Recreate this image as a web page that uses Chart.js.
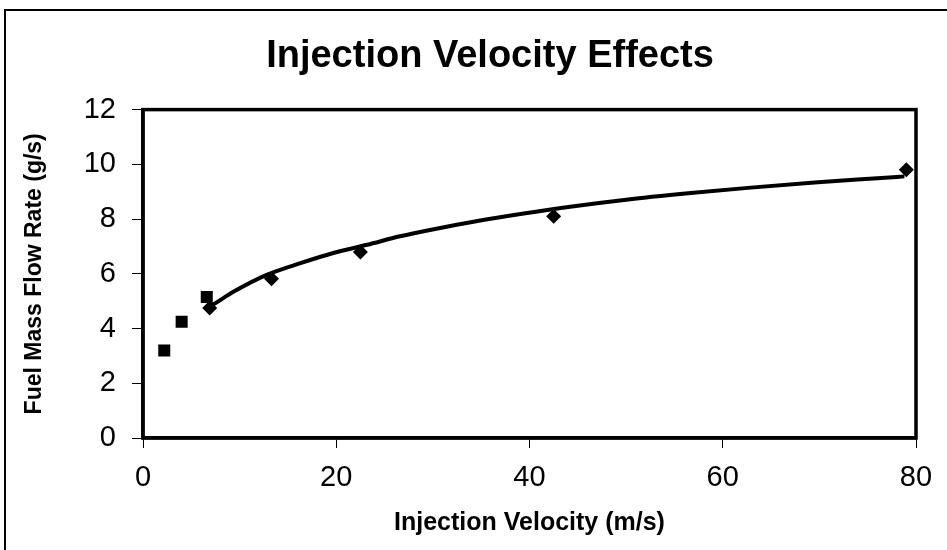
<!DOCTYPE html>
<html>
<head>
<meta charset="utf-8">
<script src="https://cdn.jsdelivr.net/npm/chart.js@4"></script>
<style>
  html, body { margin: 0; padding: 0; background: #fff; }
  #wrap { position: relative; width: 947px; height: 550px; }
  #frameLeft { position: absolute; left: 4px; top: 9px; width: 2px; height: 541px; background: #000; }
  #frameTop { position: absolute; left: 4px; top: 9px; width: 943px; height: 2px; background: #000; }
</style>
</head>
<body>
<div id="wrap">
  <canvas id="myChart" width="947" height="550"></canvas>
  <div id="frameLeft"></div>
  <div id="frameTop"></div>
</div>
<script>
// measured points (square markers)
var velSquare = [2.2, 4.0, 6.6];
var flowSquare = [3.2, 4.25, 5.15];

// measured points (diamond markers)
var velDiamond = [6.9, 13.3, 22.5, 42.5, 79.0];
var flowDiamond = [4.75, 5.82, 6.8, 8.1, 9.8];

// trend line
var trendVel = [6.9, 7.5, 9.4, 12.8, 16.3, 19.7, 23.2, 26.6, 30.1, 34.2, 39.4, 44.6, 49.8, 56.7, 62.6, 69.5, 76.4, 78.8];
var trendFlow = [4.8, 4.93, 5.35, 5.96, 6.39, 6.76, 7.06, 7.37, 7.63, 7.9, 8.2, 8.47, 8.7, 8.95, 9.14, 9.34, 9.5, 9.56];

var xTicks = [0, 20, 40, 60, 80];
var yTicks = [0, 2, 4, 6, 8, 10, 12];

function toPoints(xs, ys) {
  return xs.map(function (x, i) { return { x: x, y: ys[i] }; });
}

var FONT = "'Liberation Sans', Arial, Helvetica, sans-serif";

// box around the plot area
var plotFrame = {
  id: "plotFrame",
  afterDatasetsDraw: function (chart) {
    var a = chart.chartArea;
    var c = chart.ctx;
    c.save();
    c.strokeStyle = "#000";
    c.lineWidth = 3.5;
    c.strokeRect(a.left, a.top, a.right - a.left, a.bottom - a.top);
    c.restore();
  }
};

var ctx = document.getElementById("myChart").getContext("2d");
var myChart = new Chart(ctx, {
  type: "scatter",
  data: {
    datasets: [
      {
        label: "Trend",
        data: toPoints(trendVel, trendFlow),
        showLine: true,
        borderColor: "#000",
        borderWidth: 4,
        pointRadius: 0,
        cubicInterpolationMode: "monotone",
      },
      {
        label: "Squares",
        data: toPoints(velSquare, flowSquare),
        pointStyle: "rect",
        pointRadius: 8.5,
        backgroundColor: "#000",
        borderColor: "#000",
        borderWidth: 0,
      },
      {
        label: "Diamonds",
        data: toPoints(velDiamond, flowDiamond),
        pointStyle: "rectRot",
        pointRadius: 7.5,
        backgroundColor: "#000",
        borderColor: "#000",
        borderWidth: 0,
      },
    ],
  },
  options: {
    responsive: false,
    animation: false,
    layout: {
      padding: { left: 33, right: 0, top: 0, bottom: 0 },
    },
    plugins: {
      legend: { display: false },
      tooltip: { enabled: false },
      title: {
        display: true,
        text: "Injection Velocity Effects",
        color: "#000",
        font: { family: FONT, size: 38, weight: "bold" },
        padding: { top: 34, bottom: 30 },
      },
    },
    scales: {
      x: {
        type: "linear",
        min: 0,
        max: 80,
        afterBuildTicks: function (s) { s.ticks = xTicks.map(function (v) { return { value: v }; }); },
        afterFit: function (s) { s.height = 112; },
        grid: {
          drawOnChartArea: false,
          color: "#000",
          lineWidth: 1,
          tickLength: 10,
        },
        border: { color: "#000", width: 3.5 },
        ticks: {
          color: "#000",
          padding: 13,
          maxRotation: 0,
          font: { family: FONT, size: 29 },
        },
        title: {
          display: true,
          text: "Injection Velocity (m/s)",
          color: "#000",
          font: { family: FONT, size: 25, weight: "bold" },
          padding: { top: 0, bottom: 12 },
        },
      },
      y: {
        type: "linear",
        min: 0,
        max: 12,
        afterBuildTicks: function (s) { s.ticks = yTicks.map(function (v) { return { value: v }; }); },
        afterFit: function (s) { s.width = 110; },
        grid: {
          drawOnChartArea: false,
          color: "#000",
          lineWidth: 1,
          tickLength: 11,
        },
        border: { color: "#000", width: 3.5 },
        ticks: {
          color: "#000",
          padding: 16,
          font: { family: FONT, size: 29 },
        },
        title: {
          display: true,
          text: "Fuel Mass Flow Rate (g/s)",
          color: "#000",
          font: { family: FONT, size: 23, weight: "bold" },
          padding: { top: -12, bottom: 0 },
        },
      },
      // spacer on the right so the plot ends where the reference does
      y2: {
        position: "right",
        display: true,
        min: 0,
        max: 12,
        afterFit: function (s) { s.width = 31; },
        grid: { display: false },
        border: { display: false },
        ticks: { display: false },
      },
    },
  },
  plugins: [plotFrame],
});
</script>
</body>
</html>
